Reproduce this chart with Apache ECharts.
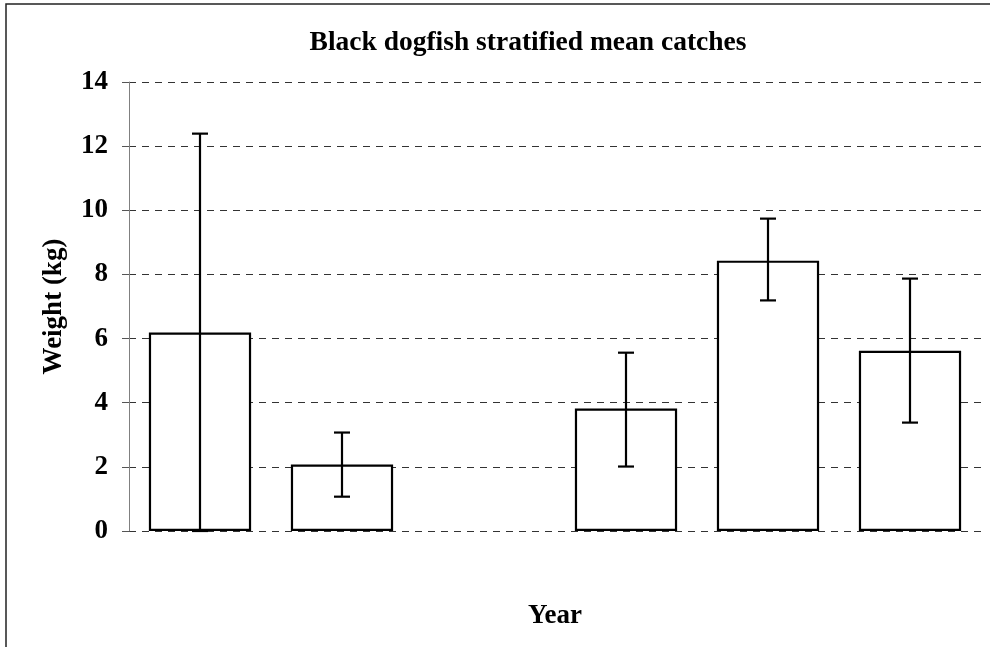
<!DOCTYPE html>
<html>
<head>
<meta charset="utf-8">
<script src="https://cdn.jsdelivr.net/npm/echarts@6/dist/echarts.min.js"></script>
<style>
html,body{margin:0;padding:0;background:#fff;}
#chart{width:990px;height:647px;}
</style>
</head>
<body>
<div id="chart"></div>
<script>
var titleText = 'Black dogfish stratified mean catches';
var categories = ['1', '2', '3', '4', '5', '6'];
var means = [6.19, 2.07, null, 3.82, 8.43, 5.62];
var lows  = [0.00, 1.07, null, 2.01, 7.19, 3.38];
var highs = [12.39, 3.07, null, 5.56, 9.74, 7.87];
var yTicks = [0, 2, 4, 6, 8, 10, 12, 14];

var FONT = '"Liberation Serif", "Times New Roman", serif';

var errData = [];
for (var i = 0; i < categories.length; i++) {
  if (lows[i] != null && highs[i] != null) errData.push([i, lows[i], highs[i]]);
}

var chart = echarts.init(document.getElementById('chart'));
chart.setOption({
  backgroundColor: '#fff',
  animation: false,
  title: {
    text: titleText,
    left: 523,
    top: 24,
    textAlign: 'center',
    textStyle: { fontFamily: FONT, fontWeight: 'bold', fontSize: 27.5, color: '#000' }
  },
  graphic: [{
    type: 'rect',
    shape: { x: 6, y: 4, width: 1100, height: 800 },
    style: { fill: 'none', stroke: '#222', lineWidth: 1.5 },
    silent: true
  }],
  grid: { left: 129, right: 9, top: 82, bottom: 116, containLabel: false },
  xAxis: {
    type: 'category',
    data: categories,
    name: 'Year',
    nameLocation: 'middle',
    nameGap: 72,
    nameTextStyle: { fontFamily: FONT, fontWeight: 'bold', fontSize: 27, color: '#000' },
    axisLine: { show: false },
    axisTick: { show: false },
    axisLabel: { show: false },
    splitLine: { show: false }
  },
  yAxis: {
    type: 'value',
    min: 0,
    max: 14,
    interval: 2,
    name: 'Weight (kg)',
    nameLocation: 'middle',
    nameGap: 61,
    nameRotate: 90,
    nameTextStyle: { fontFamily: FONT, fontWeight: 'bold', fontSize: 27, color: '#000' },
    axisLine: { show: true, lineStyle: { color: '#808080', width: 1 } },
    axisTick: { show: true, length: 7, lineStyle: { color: '#555', width: 1 } },
    axisLabel: {
      margin: 21,
      fontFamily: FONT, fontWeight: 'bold', fontSize: 27, color: '#000',
      formatter: function (v) { return yTicks.indexOf(v) >= 0 ? String(v) : ''; }
    },
    splitLine: { show: true, lineStyle: { color: '#333', width: 1, type: [7, 6] } }
  },
  series: [{
    type: 'bar',
    data: means,
    barWidth: '72%',
    itemStyle: { color: '#fff', borderColor: '#000', borderWidth: 2.2 },
    z: 2
  }, {
    type: 'custom',
    data: errData,
    z: 3,
    renderItem: function (params, api) {
      var x = api.value(0);
      var lo = api.coord([x, api.value(1)]);
      var hi = api.coord([x, api.value(2)]);
      var hw = 8;
      var st = { stroke: '#000', lineWidth: 2.2, fill: null };
      return {
        type: 'group',
        children: [
          { type: 'line', shape: { x1: hi[0], y1: hi[1], x2: lo[0], y2: lo[1] }, style: st },
          { type: 'line', shape: { x1: hi[0] - hw, y1: hi[1], x2: hi[0] + hw, y2: hi[1] }, style: st },
          { type: 'line', shape: { x1: lo[0] - hw, y1: lo[1], x2: lo[0] + hw, y2: lo[1] }, style: st }
        ]
      };
    }
  }]
});
</script>
</body>
</html>
